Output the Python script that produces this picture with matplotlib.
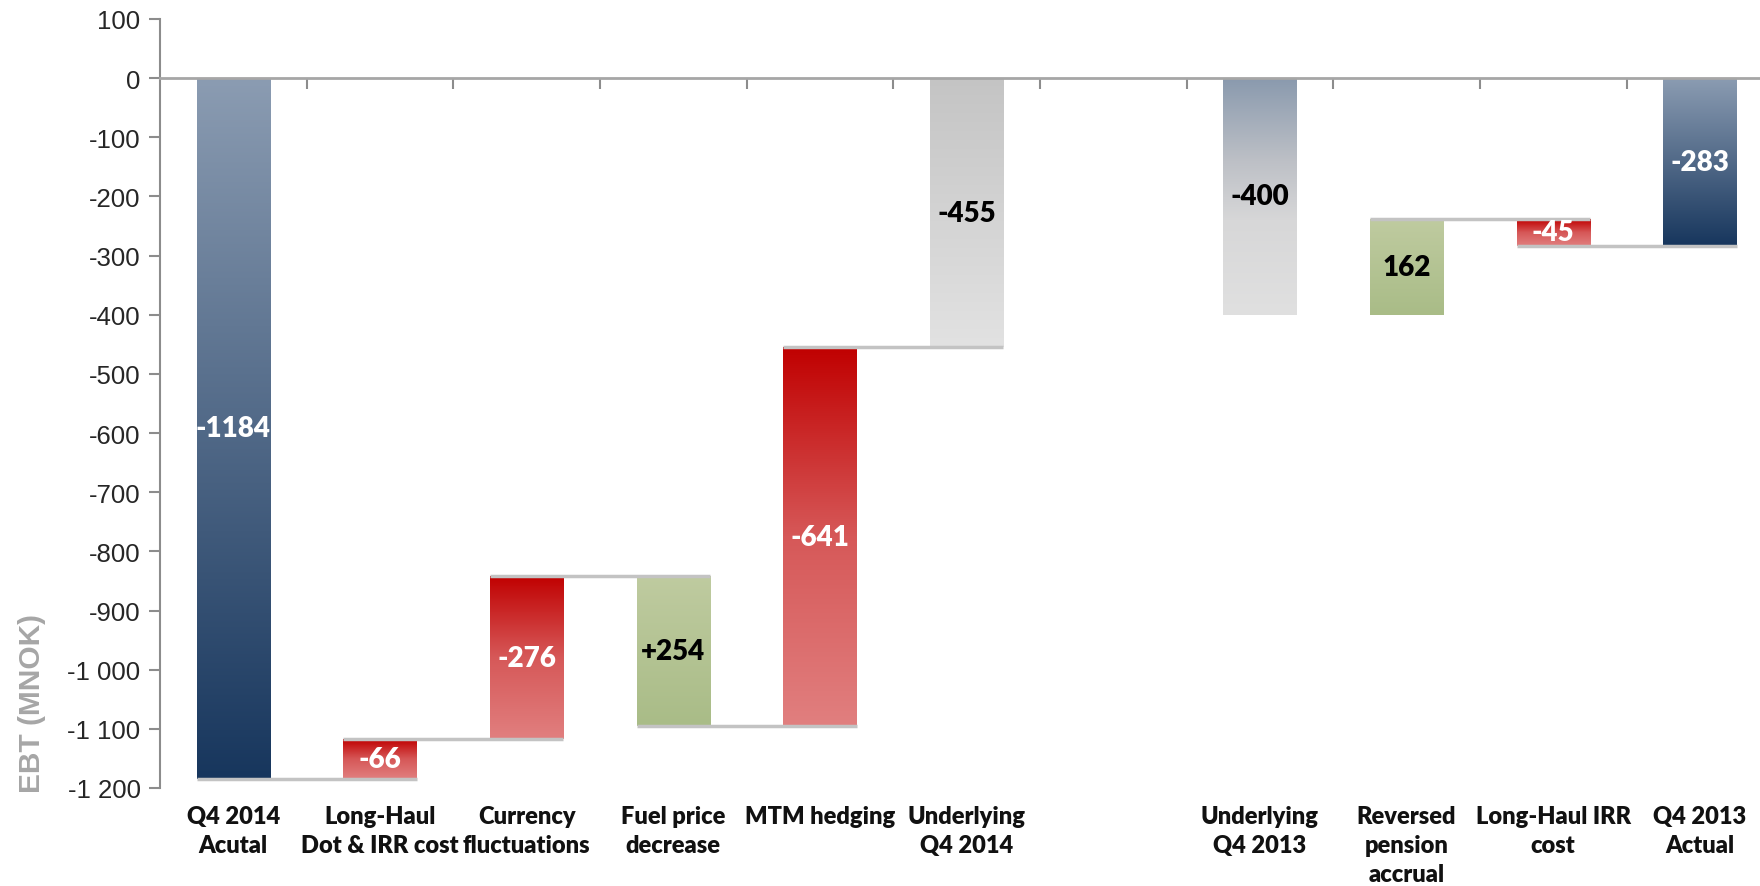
import numpy as np
import matplotlib.pyplot as plt
from matplotlib.colors import LinearSegmentedColormap
from matplotlib.transforms import blended_transform_factory

# EBT bridge, MNOK
categories = ['Q4 2014\nAcutal', 'Long-Haul\nDot & IRR cost', 'Currency\nfluctuations',
              'Fuel price\ndecrease', 'MTM hedging', 'Underlying\nQ4 2014', '',
              'Underlying\nQ4 2013', 'Reversed\npension\naccrual', 'Long-Haul IRR\ncost',
              'Q4 2013\nActual']
q4_2014_actual = -1184
adj_2014 = [-66, -276, 254, -641]      # one-offs backed out of the reported figure
q4_2014_underlying = -455
q4_2013_underlying = -400
adj_2013 = [162, -45]
q4_2013_actual = -283
value_labels = ['-1184', '-66', '-276', '+254', '-641', '-455', '',
                '-400', '162', '-45', '-283']
yticks = list(range(-1200, 101, 100))

# bar extents (start level, end level) and styles
spans = [(0, q4_2014_actual)]
kinds = ['actual']
lvl = q4_2014_actual
for v in adj_2014:
    spans.append((lvl, lvl - v))
    kinds.append('pos' if v > 0 else 'neg')
    lvl -= v
spans.append((0, q4_2014_underlying))
kinds.append('under14')
spans.append(None)
kinds.append(None)
spans.append((0, q4_2013_underlying))
kinds.append('under13')
lvl = q4_2013_underlying
for v in adj_2013:
    spans.append((lvl, lvl + v))
    kinds.append('pos' if v > 0 else 'neg')
    lvl += v
spans.append((0, q4_2013_actual))
kinds.append('actual')

cmaps = {
    'actual': LinearSegmentedColormap.from_list('a', ['#8b9cb2', '#17365d']),
    'neg': LinearSegmentedColormap.from_list('n', ['#c00000', '#d65858', '#e17f7f']),
    'pos': LinearSegmentedColormap.from_list('p', ['#bfcba0', '#a9bc87']),
    'under14': LinearSegmentedColormap.from_list('u4', ['#c4c4c4', '#e2e2e2']),
    'under13': LinearSegmentedColormap.from_list(
        'u3', [(0, '#8a9aae'), (0.35, '#bdc0c6'), (0.6, '#d7d7d8'), (1, '#e0e0e0')]),
}
text_col = {'actual': 'white', 'neg': 'white', 'pos': 'black',
            'under14': 'black', 'under13': 'black'}

fig = plt.figure(figsize=(17.6, 8.87), dpi=100)
ax = fig.add_axes([160 / 1760, 1 - 789 / 887, 1600 / 1760, 769 / 887])

width = 0.5
grad = np.linspace(0, 1, 256)[:, None]
patches = {}
for i, sp in enumerate(spans):
    if sp is None:
        continue
    lo, hi = min(sp), max(sp)
    p = ax.bar(i, hi - lo, bottom=lo, width=width, color='none', zorder=2)[0]
    patches[i] = p
    im = ax.imshow(grad, cmap=cmaps[kinds[i]], aspect='auto', zorder=2,
                   extent=(p.get_x(), p.get_x() + p.get_width(), lo, hi))
    im.set_clip_path(p)
    ax.text(i, (lo + hi) / 2, value_labels[i], ha='center', va='center',
            fontsize=20, fontweight='heavy', family=['Lato', 'DejaVu Sans'],
            color=text_col[kinds[i]], zorder=5)

# connectors between consecutive steps
for a, b in [(0, 1), (1, 2), (2, 3), (3, 4), (4, 5), (8, 9), (9, 10)]:
    level = spans[a][1]
    x0 = patches[a].get_x()
    x1 = patches[b].get_x() + patches[b].get_width()
    ax.plot([x0, x1], [level, level], color='#c3c3c3', lw=2.5, zorder=3,
            solid_capstyle='butt')

ax.set_xlim(-0.5, 10.41)
ax.set_ylim(-1200, 100)

ax.spines['top'].set_visible(False)
ax.spines['right'].set_visible(False)
ax.spines['bottom'].set_position(('data', 0))
ax.spines['bottom'].set_color('#a6a6a6')
ax.spines['bottom'].set_linewidth(2)
ax.spines['bottom'].set_zorder(4)
ax.spines['left'].set_color('#8c8c8c')
ax.spines['left'].set_linewidth(1.5)

ax.set_xticks(np.arange(0.5, 10, 1))
ax.set_xticklabels([])
ax.tick_params(axis='x', direction='out', length=8, width=1.5, color='#8c8c8c')
ax.set_yticks(yticks)
ax.set_yticklabels([f'{v:,}'.replace(',', ' ') for v in yticks],
                   family=['Liberation Sans', 'DejaVu Sans'], fontsize=18.5, color='#262626')
ax.tick_params(axis='y', direction='out', length=8, width=1.5, color='#8c8c8c', pad=6)

trans = blended_transform_factory(ax.transData, ax.transAxes)
for i, c in enumerate(categories):
    ax.text(i, -0.022, c, transform=trans, ha='center', va='top', fontsize=17,
            fontweight='heavy', linespacing=1.38, color='#111111',
            family=['Lato', 'DejaVu Sans'])

fig.text(32 / 1760, 1 - 704 / 887, 'EBT (MNOK)', rotation=90, ha='center', va='center',
         fontsize=21.5, fontweight='bold', color='#a6a6a6',
         family=['Liberation Sans', 'DejaVu Sans'])

fig.savefig('out.png', dpi=100)
